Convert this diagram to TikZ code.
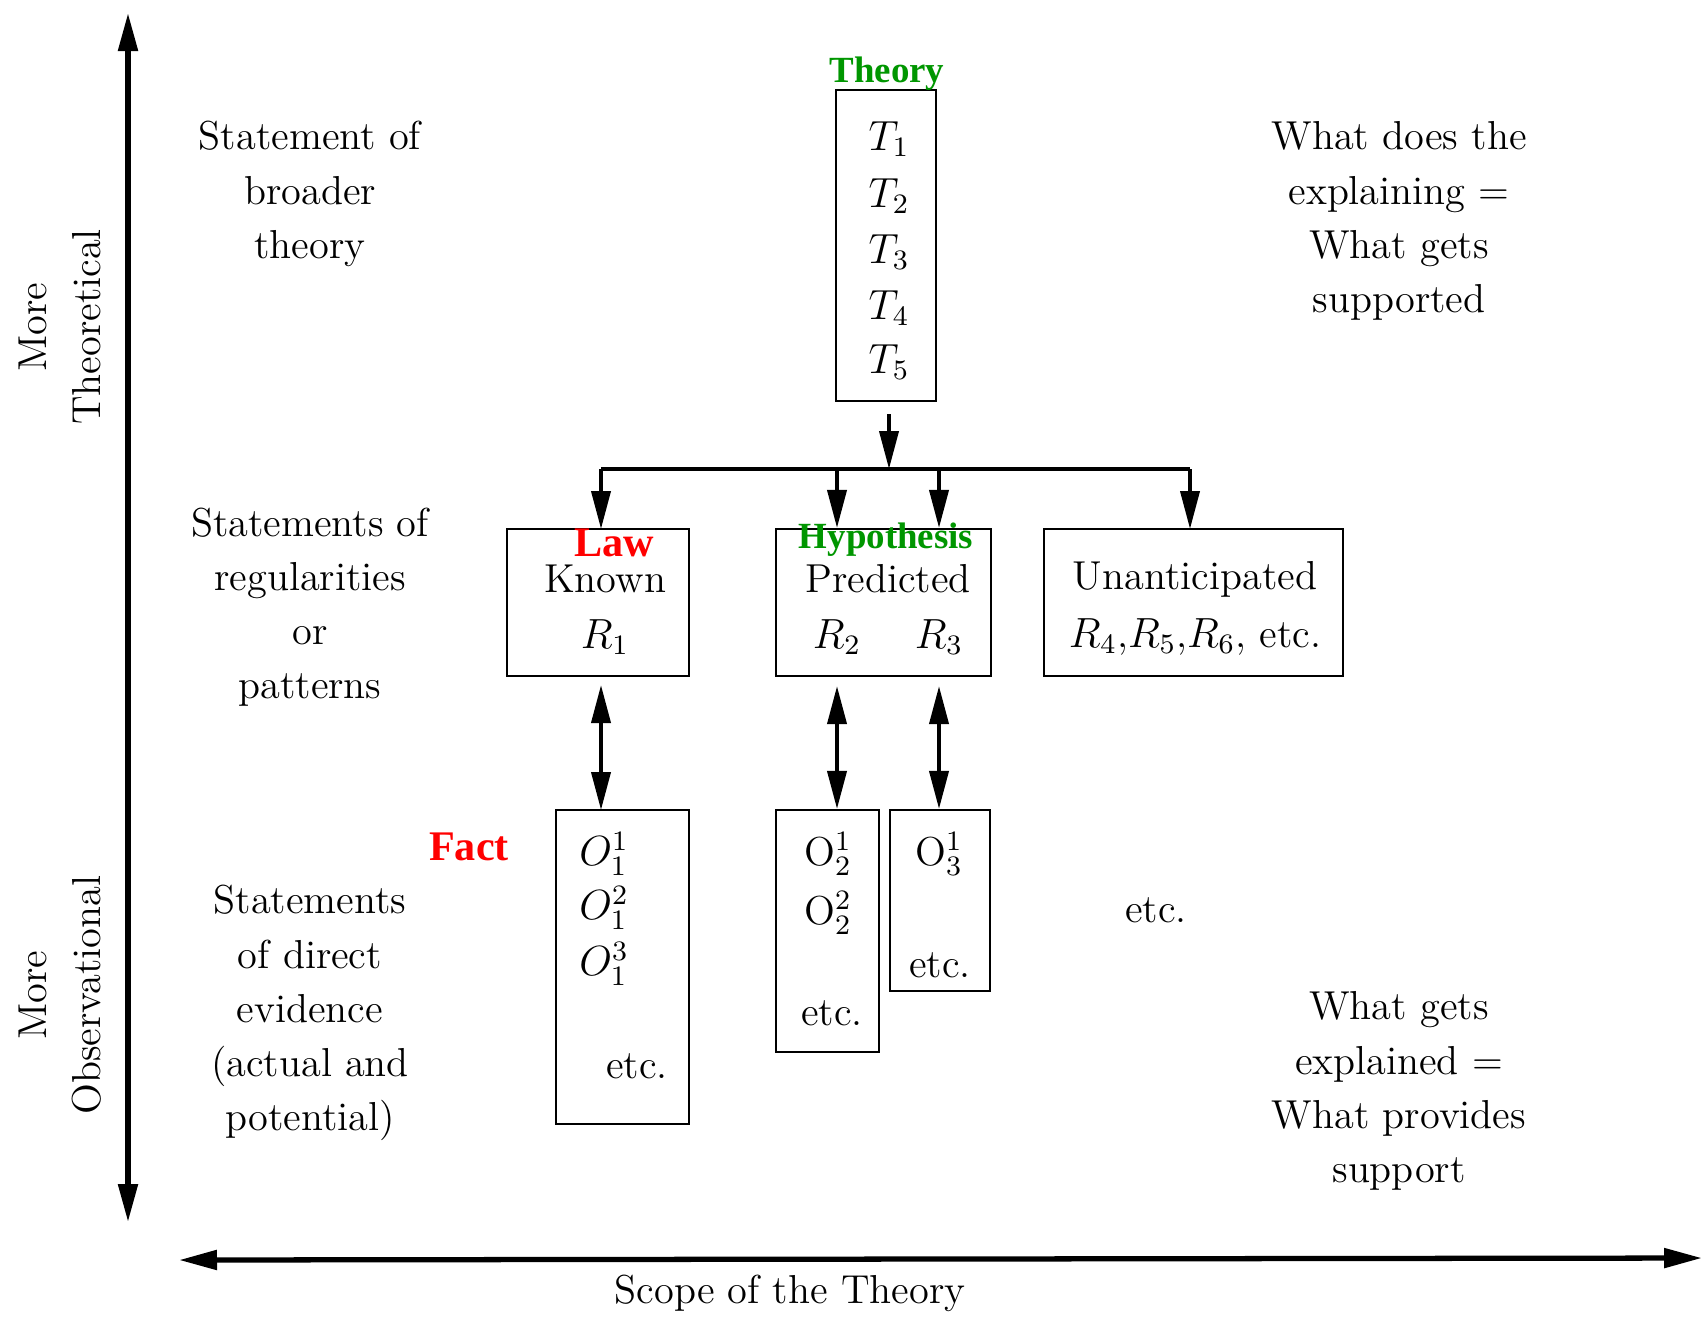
\documentclass[tikz,border=0pt]{standalone}
\usepackage{fontspec}
\newfontfamily\labfont{Liberation Serif}
\usetikzlibrary{arrows.meta,positioning}
\definecolor{labred}{RGB}{255,0,0}
\definecolor{labgreen}{RGB}{0,150,0}

\begin{document}
\begin{tikzpicture}[x=1cm,y=1cm,>={Triangle[length=3.8mm,width=1.9mm]},
  every node/.style={font=\fontsize{11.5}{15.4}\selectfont},
  frame/.style={draw,line width=.6pt,inner sep=0pt},
  side/.style={align=center},
  tight/.style={inner sep=0pt},
  tag/.style={font=\labfont\bfseries\fontsize{12}{14}\selectfont,text=labred},
  gtag/.style={font=\labfont\bfseries\fontsize{10.5}{12}\selectfont,text=labgreen},
  arrow/.style={->,line width=1.1pt},
  twoway/.style={<->,line width=1.1pt},
  axis/.style={<->,line width=1.5pt}]
  \useasboundingbox (0,0) rectangle (17.04,-13.21);

  % axes
  \coordinate (vtop) at (1.28,-0.13);
  \coordinate (vbot) at (1.28,-12.22);
  \coordinate (hleft) at (1.79,-12.60);
  \coordinate (hright) at (17.02,-12.58);
  \draw[axis] (vbot)--(vtop);
  \draw[axis] (hleft)--(hright);
  \node[side,rotate=90] (theo) at (0.60,-3.27) {More\\Theoretical};
  \node[side,rotate=90] (obs) at (0.60,-9.95) {More\\Observational};
  \node (scope) at (7.90,-12.93) {Scope of the Theory};

  % row labels
  \node[side] (broad) at (3.10,-1.94) {Statement of\\broader\\theory};
  \node[side] (regul) at (3.10,-6.07) {Statements of\\regularities\\or\\patterns};
  \node[side] (direct) at (3.10,-10.13) {Statements\\of direct\\evidence\\(actual and\\potential)};
  \node[side] (explaining) at (13.99,-2.21) {What does the\\explaining =\\What gets\\supported};
  \node[side] (explained) at (13.99,-10.91) {What gets\\explained =\\What provides\\support};

  % theory
  \node[frame,minimum width=1.0cm,minimum height=3.11cm] (theory) at (8.86,-2.455) {};
  \foreach \i/\y in {1/1.39,2/1.96,3/2.52,4/3.08,5/3.62}
    \node[tight] (t\i) at (8.89,-\y) {$T_\i$};
  \node[gtag] (theorylbl) at (8.87,-0.74) {Theory};

  % regularities
  \node[frame,minimum width=1.82cm,minimum height=1.47cm] (known) at (5.98,-6.025) {};
  \node[frame,minimum width=2.15cm,minimum height=1.47cm] (pred) at (8.835,-6.025) {};
  \node[frame,minimum width=2.99cm,minimum height=1.47cm] (unant) at (11.935,-6.025) {};
  \node[tag] (law) at (6.14,-5.43) {Law};
  \node[gtag] (hypo) at (8.86,-5.40) {Hypothesis};
  \node (knowntxt) at (6.05,-5.79) {Known};
  \node (r1) at (6.05,-6.37) {$R_1$};
  \node (predtxt) at (8.88,-5.79) {Predicted};
  \node (r2) at (8.37,-6.37) {$R_2$};
  \node (r3) at (9.39,-6.37) {$R_3$};
  \node (unanttxt) at (11.95,-5.79) {Unanticipated};
  \node (rrest) at (11.95,-6.37) {$R_4$,$R_5$,$R_6$, etc.};

  % observations
  \node[frame,minimum width=1.33cm,minimum height=3.14cm] (obs1) at (6.225,-9.67) {};
  \node[frame,minimum width=1.03cm,minimum height=2.42cm] (obs2) at (8.275,-9.31) {};
  \node[frame,minimum width=1.00cm,minimum height=1.81cm] (obs3) at (9.40,-9.005) {};
  \node[tag] (fact) at (4.69,-8.47) {Fact};
  \node[tight] (o11) at (6.04,-8.54) {$O_1^1$};
  \node[tight] (o12) at (6.04,-9.08) {$O_1^2$};
  \node[tight] (o13) at (6.04,-9.64) {$O_1^3$};
  \node (etc1) at (6.37,-10.66) {etc.};
  \node[tight] (o21) at (8.28,-8.54) {$\mathrm{O}_2^1$};
  \node[tight] (o22) at (8.28,-9.13) {$\mathrm{O}_2^2$};
  \node (etc2) at (8.32,-10.13) {etc.};
  \node[tight] (o31) at (9.39,-8.54) {$\mathrm{O}_3^1$};
  \node (etc3) at (9.40,-9.65) {etc.};
  \node (etcmore) at (11.56,-9.10) {etc.};

  % connectors
  \coordinate (split) at (8.89,-4.69);
  \draw[arrow] ([yshift=-1.2mm]split |- theory.south)--(split);
  \draw[line width=1.1pt] (6.01,-4.69)--(11.90,-4.69);
  \draw[arrow] (6.01,-4.69)--(6.01,-5.29);
  \draw[arrow] (r2 |- split)--(r2 |- pred.north);
  \draw[arrow] (r3 |- split)--(r3 |- pred.north);
  \draw[arrow] (11.90,-4.69)--(11.90,-5.29);
  \draw[twoway] (6.01,-6.85)--(6.01,-8.10);
  \draw[twoway] ([yshift=-0.9mm]r2 |- pred.south)--(r2 |- obs2.north);
  \draw[twoway] ([yshift=-0.9mm]r3 |- pred.south)--(r3 |- obs3.north);
\end{tikzpicture}
\end{document}
